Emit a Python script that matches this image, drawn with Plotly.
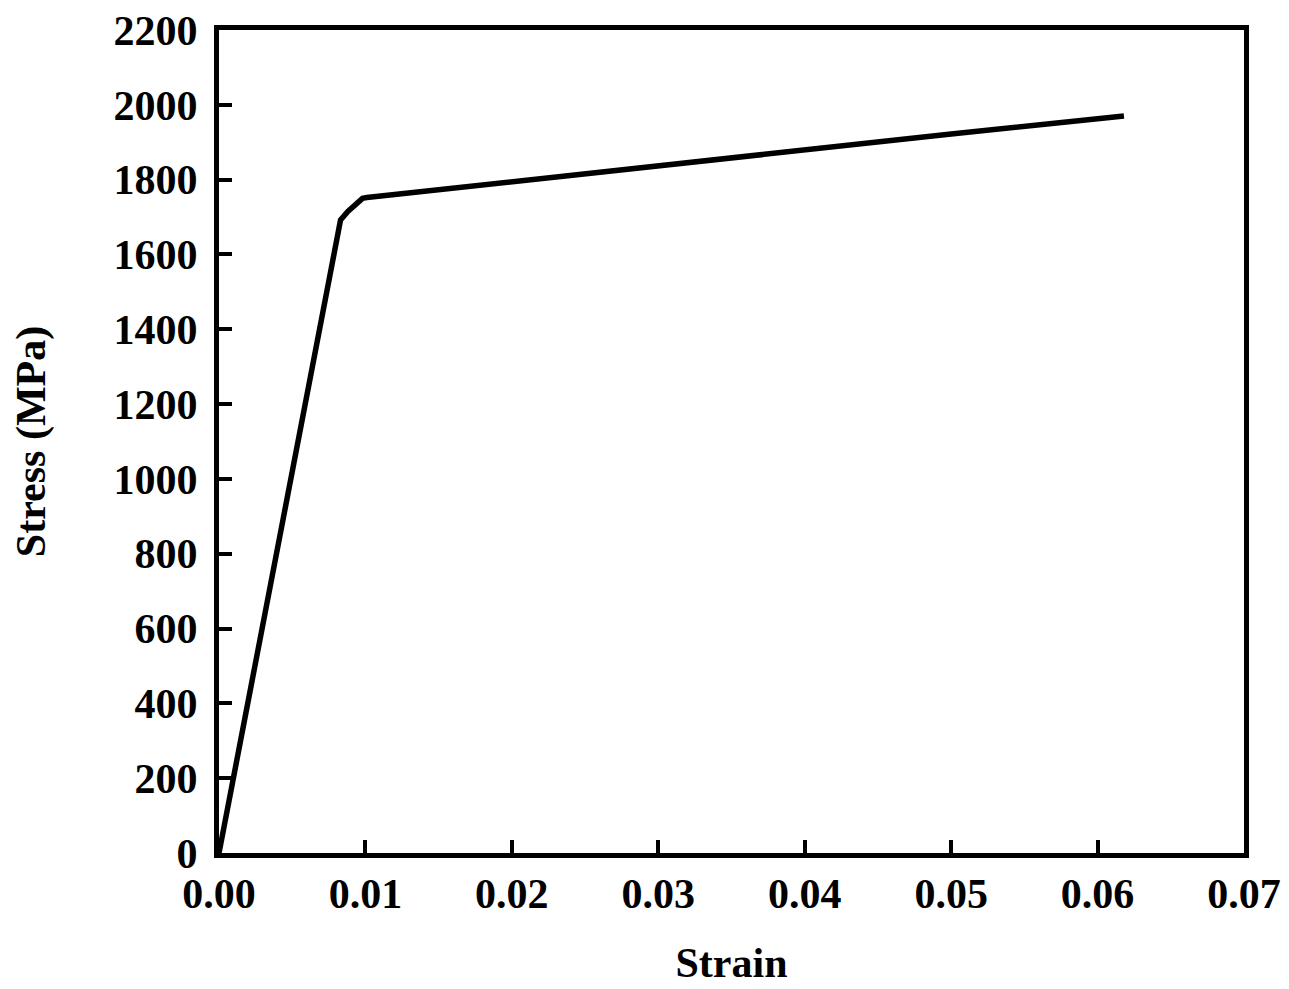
import plotly.graph_objects as go

strain = [0.0, 0.0083, 0.0088, 0.0098, 0.0101, 0.0200, 0.0300, 0.0400, 0.0500, 0.0618]
stress = [0, 1692, 1715, 1750, 1752, 1795, 1838, 1880, 1922, 1970]

x_ticks = [0.00, 0.01, 0.02, 0.03, 0.04, 0.05, 0.06, 0.07]
y_ticks = list(range(0, 2201, 200))

font_family = "Liberation Serif"
fs = 42
fs_title = 42

fig = go.Figure()
fig.add_trace(go.Scatter(x=strain, y=stress, mode="lines",
                         line=dict(color="black", width=5.5), showlegend=False))

fig.update_layout(
    width=1289, height=989,
    paper_bgcolor="white", plot_bgcolor="white",
    margin=dict(l=211, r=53, t=22, b=144, autoexpand=False),
    font=dict(family=font_family, size=fs, color="black"),
)
fig.update_xaxes(
    range=[0, 0.07], tickvals=x_ticks, ticktext=[f"{v:.2f}" for v in x_ticks],
    showgrid=False, zeroline=False, showline=True, linecolor="black", linewidth=5,
    mirror=True, ticks="inside", ticklen=13, tickwidth=4, tickcolor="black",
    ticklabeloverflow="allow", automargin=False,
    tickfont=dict(family=font_family, size=fs, color="black", weight="bold"),
    title=dict(text="<b>Strain</b>", font=dict(family=font_family, size=fs_title), standoff=33),
)
fig.update_yaxes(
    range=[0, 2200], tickvals=y_ticks, ticktext=[str(v) for v in y_ticks],
    showgrid=False, zeroline=False, showline=True, linecolor="black", linewidth=5,
    mirror=True, ticks="inside", ticklen=13, tickwidth=4, tickcolor="black",
    ticklabeloverflow="allow", ticklabelstandoff=8, automargin=False,
    tickfont=dict(family=font_family, size=fs, color="black", weight="bold"),
    title=dict(text="<b>Stress (MPa)</b>", font=dict(family=font_family, size=fs_title), standoff=72),
)

fig.write_html("out.html")
